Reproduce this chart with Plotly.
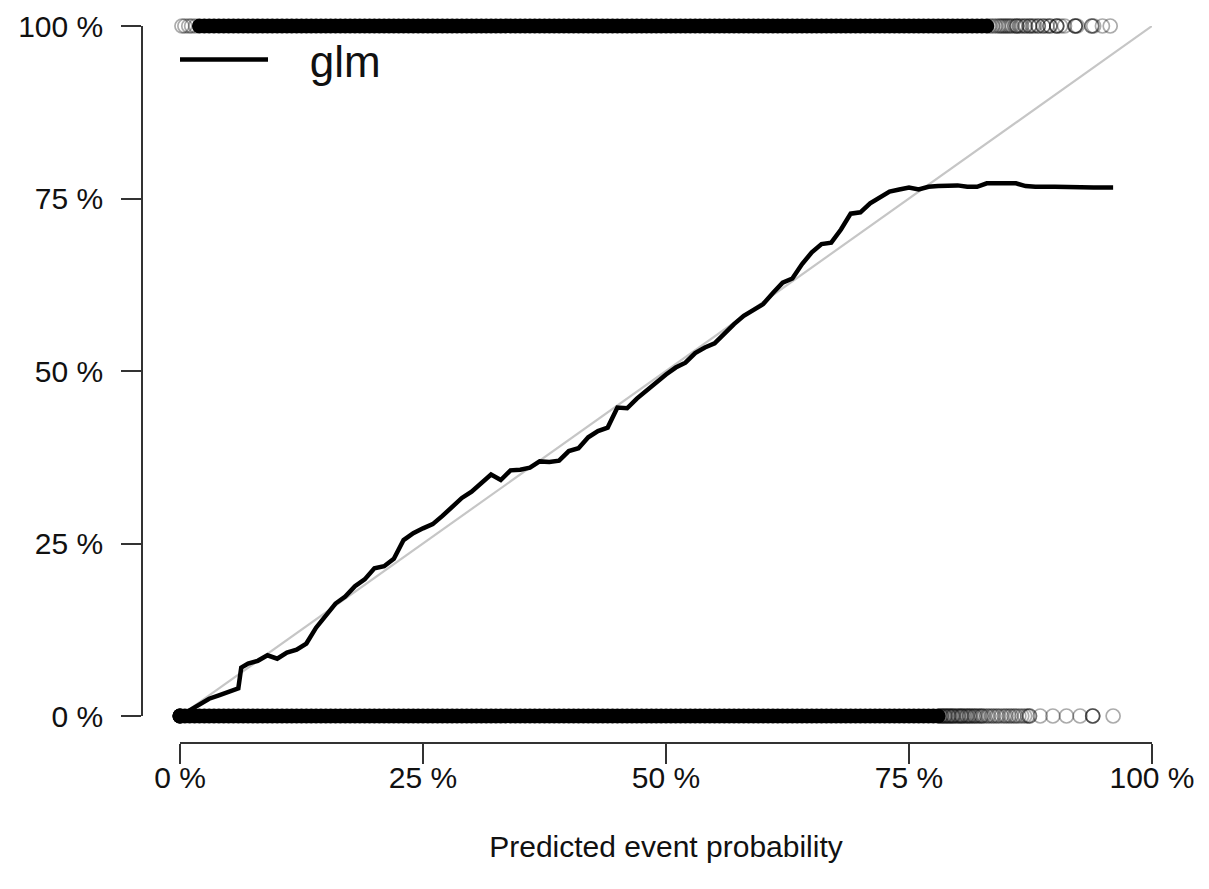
import plotly.graph_objects as go

# ---- calibration curve (glm), in percent ----
calib_x = [0, 1, 2, 3, 4, 5, 6, 6.3, 7, 8, 9, 10, 11, 12, 13, 14, 15, 16, 17, 18, 19, 20,
           21, 22, 23, 24, 25, 26, 27, 28, 29, 30, 31, 32, 33, 34, 35, 36, 37, 38, 39, 40,
           41, 42, 43, 44, 45, 46, 47, 48, 49, 50, 51, 52, 53, 54, 55, 56, 57, 58, 59, 60,
           61, 62, 63, 64, 65, 66, 67, 68, 69, 70, 71, 72, 73, 74, 75, 76, 77, 78, 79, 80,
           81, 82, 83, 84, 85, 86, 87, 88, 90, 92, 94, 96]
calib_y = [0, 0.8, 1.6, 2.5, 3.0, 3.5, 4.0, 7.0, 7.6, 8.0, 8.8, 8.3, 9.2, 9.6, 10.5, 12.8,
           14.5, 16.3, 17.3, 18.8, 19.8, 21.4, 21.7, 22.8, 25.5, 26.5, 27.2, 27.8, 29.0,
           30.2, 31.6, 32.5, 33.8, 35.0, 34.2, 35.6, 35.7, 36.0, 36.9, 36.8, 37.0, 38.4,
           38.8, 40.4, 41.3, 41.8, 44.7, 44.6, 46.0, 47.2, 48.5, 49.5, 50.5, 51.2, 52.6,
           53.4, 54.0, 55.5, 56.8, 58.0, 58.8, 59.7, 61.3, 62.8, 63.4, 65.5, 67.2, 68.4,
           68.6, 70.5, 72.8, 73.0, 74.3, 75.2, 76.0, 76.3, 76.6, 76.3, 76.7, 76.8, 76.8,
           76.9, 76.7, 76.7, 77.2, 77.2, 77.2, 77.2, 76.8, 76.7, 76.7, 76.6, 76.6, 76.6]

# ---- observed outcomes (predicted probability, percent) ----
# events (outcome = 100 %): densely packed region and scattered rings
event_dense_x = [2, 2.5, 3, 3.5, 4, 4.5, 5, 5.5, 6, 6.5, 7, 7.5, 8, 8.5, 9, 9.5, 10, 10.5,
                 11, 11.5, 12, 12.5, 13, 13.5, 14, 14.5, 15, 15.5, 16, 16.5, 17, 17.5, 18,
                 18.5, 19, 19.5, 20, 20.5, 21, 21.5, 22, 22.5, 23, 23.5, 24, 24.5, 25, 25.5,
                 26, 26.5, 27, 27.5, 28, 28.5, 29, 29.5, 30, 30.5, 31, 31.5, 32, 32.5, 33,
                 33.5, 34, 34.5, 35, 35.5, 36, 36.5, 37, 37.5, 38, 38.5, 39, 39.5, 40, 40.5,
                 41, 41.5, 42, 42.5, 43, 43.5, 44, 44.5, 45, 45.5, 46, 46.5, 47, 47.5, 48,
                 48.5, 49, 49.5, 50, 50.5, 51, 51.5, 52, 52.5, 53, 53.5, 54, 54.5, 55, 55.5,
                 56, 56.5, 57, 57.5, 58, 58.5, 59, 59.5, 60, 60.5, 61, 61.5, 62, 62.5, 63,
                 63.5, 64, 64.5, 65, 65.5, 66, 66.5, 67, 67.5, 68, 68.5, 69, 69.5, 70, 70.5,
                 71, 71.5, 72, 72.5, 73, 73.5, 74, 74.5, 75, 75.5, 76, 76.5, 77, 77.5, 78,
                 78.5, 79, 79.5, 80, 80.5, 81, 81.5, 82, 82.5, 83]
event_ring_x = [0.2, 0.5, 0.9, 1.2, 1.6, 83.3, 83.6, 83.9, 84.2, 84.4, 84.6, 84.8, 85.0,
                85.2, 85.4, 85.6, 85.9, 86.1, 86.1, 86.4, 86.6, 86.9, 87.0, 87.4, 87.4,
                87.7, 87.9, 88.3, 88.3, 88.8, 88.8, 89.2, 89.5, 89.5, 90.2, 90.2, 90.2,
                90.6, 91.0, 92.1, 92.1, 92.1, 92.3, 93.8, 93.8, 94.0, 94.9, 95.7]

# non-events (outcome = 0 %)
nonevent_dense_x = [0, 0, 0, 0.5, 1, 1.5, 2, 2.5, 3, 3.5, 4, 4.5, 5, 5.5, 6, 6.5, 7, 7.5,
                    8, 8.5, 9, 9.5, 10, 10.5, 11, 11.5, 12, 12.5, 13, 13.5, 14, 14.5, 15,
                    15.5, 16, 16.5, 17, 17.5, 18, 18.5, 19, 19.5, 20, 20.5, 21, 21.5, 22,
                    22.5, 23, 23.5, 24, 24.5, 25, 25.5, 26, 26.5, 27, 27.5, 28, 28.5, 29,
                    29.5, 30, 30.5, 31, 31.5, 32, 32.5, 33, 33.5, 34, 34.5, 35, 35.5, 36,
                    36.5, 37, 37.5, 38, 38.5, 39, 39.5, 40, 40.5, 41, 41.5, 42, 42.5, 43,
                    43.5, 44, 44.5, 45, 45.5, 46, 46.5, 47, 47.5, 48, 48.5, 49, 49.5, 50,
                    50.5, 51, 51.5, 52, 52.5, 53, 53.5, 54, 54.5, 55, 55.5, 56, 56.5, 57,
                    57.5, 58, 58.5, 59, 59.5, 60, 60.5, 61, 61.5, 62, 62.5, 63, 63.5, 64,
                    64.5, 65, 65.5, 66, 66.5, 67, 67.5, 68, 68.5, 69, 69.5, 70, 70.5, 71,
                    71.5, 72, 72.5, 73, 73.5, 74, 74.5, 75, 75.5, 76, 76.5, 77, 77.5, 78]
nonevent_ring_x = [78.2, 78.3, 78.4, 78.6, 78.7, 78.8, 79.0, 79.1, 79.2, 79.4, 79.5, 79.6,
                   79.8, 80.0, 80.1, 80.3, 80.4, 80.5, 80.7, 80.9, 81.0, 81.2, 81.3, 81.5,
                   81.7, 81.8, 82.0, 82.2, 82.4, 82.5, 82.7, 83.0, 83.2, 83.5, 83.7, 84.0,
                   84.2, 84.5, 84.8, 85.0, 85.3, 85.5, 85.8, 86.0, 86.3, 86.6, 86.9, 87.2,
                   87.4, 87.4, 88.5, 89.8, 91.2, 92.6, 93.9, 93.9, 93.9, 96.0]

diag = [0, 100]
tick_vals = [0, 25, 50, 75, 100]
tick_text = ["0 %", "25 %", "50 %", "75 %", "100 %"]

FONT = "Liberation Sans, Arial, Helvetica, sans-serif"
MK = 15

fig = go.Figure()

fig.add_trace(go.Scatter(x=diag, y=diag, mode="lines", showlegend=False,
                         line=dict(color="#c6c6c6", width=2.2), cliponaxis=False))

fig.add_trace(go.Scatter(x=event_dense_x, y=[100] * len(event_dense_x), mode="markers",
                         showlegend=False, cliponaxis=False,
                         marker=dict(symbol="circle", size=MK, color="black",
                                     line=dict(width=0))))
fig.add_trace(go.Scatter(x=nonevent_dense_x, y=[0] * len(nonevent_dense_x), mode="markers",
                         showlegend=False, cliponaxis=False,
                         marker=dict(symbol="circle", size=MK, color="black",
                                     line=dict(width=0))))
fig.add_trace(go.Scatter(x=event_ring_x, y=[100] * len(event_ring_x), mode="markers",
                         showlegend=False, cliponaxis=False,
                         marker=dict(symbol="circle-open", size=MK - 1,
                                     color="rgba(0,0,0,0.33)", line=dict(width=1.7))))
fig.add_trace(go.Scatter(x=nonevent_ring_x, y=[0] * len(nonevent_ring_x), mode="markers",
                         showlegend=False, cliponaxis=False,
                         marker=dict(symbol="circle-open", size=MK - 1,
                                     color="rgba(0,0,0,0.33)", line=dict(width=1.7))))

fig.add_trace(go.Scatter(x=calib_x, y=calib_y, mode="lines",
                         name="\u00a0\u00a0\u00a0glm",
                         line=dict(color="black", width=4.5), cliponaxis=False))

# page body has an 8 px offset; figure is sized to fit inside the window
W, H = 1193, 873
ml, mr, mt, mb = 134, 49, 18, 138
pw = W - ml - mr
ph = H - mt - mb

fig.update_layout(
    width=W, height=H,
    margin=dict(l=ml, r=mr, t=mt, b=mb, pad=0, autoexpand=False),
    plot_bgcolor="white", paper_bgcolor="white",
    font=dict(family=FONT, color="#111111", size=30),
    showlegend=True,
    legend=dict(x=(167 - ml) / pw, y=1 - (52 - mt) / ph, xanchor="left", yanchor="middle",
                bgcolor="rgba(0,0,0,0)", borderwidth=0, itemwidth=88,
                font=dict(family=FONT, size=44, color="#111111")),
    xaxis=dict(range=[0, 100], domain=[(172 - ml) / pw, 1], anchor="free", position=0,
               automargin=False, ticklabeloverflow="allow",
               showgrid=False, zeroline=False, showline=True, linecolor="#333333",
               linewidth=1.5, ticks="outside", ticklen=20, tickwidth=1.5,
               tickcolor="#333333", tickvals=tick_vals, ticktext=tick_text,
               tickfont=dict(size=30, family=FONT), ticklabelstandoff=-12,
               title=dict(text="Predicted event probability", standoff=42,
                          font=dict(size=30, family=FONT))),
    yaxis=dict(range=[0, 100], domain=[27 / ph, 1], anchor="free", position=0,
               automargin=False, ticklabeloverflow="allow",
               showgrid=False, zeroline=False, showline=True, linecolor="#333333",
               linewidth=1.5, ticks="outside", ticklen=20, tickwidth=1.5,
               tickcolor="#333333", tickvals=tick_vals, ticktext=tick_text,
               tickfont=dict(size=30, family=FONT), ticklabelstandoff=12),
)

fig.write_html("out.html")
